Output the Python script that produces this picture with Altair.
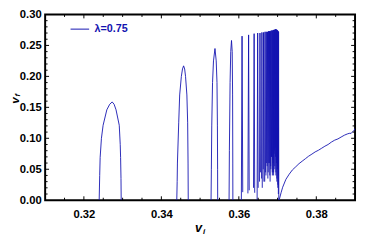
import altair as alt
import pandas as pd

BLUE = "#1212b0"
FONT = "Liberation Sans"

# ---- data ----
arch1_x = [0.32395, 0.32408, 0.32420, 0.32453, 0.32496, 0.32592, 0.32667, 0.32730,
           0.32780, 0.32830, 0.32913, 0.32938, 0.32948, 0.32958, 0.32963]
arch1_y = [0.0, 0.040, 0.069, 0.100, 0.121, 0.146, 0.155, 0.1587,
           0.155, 0.146, 0.121, 0.090, 0.069, 0.035, 0.0]

arch2_x = [0.34398, 0.34408, 0.34415, 0.34448, 0.34473, 0.34516, 0.34546, 0.34574,
           0.34601, 0.34624, 0.34659, 0.34679, 0.34689, 0.34694]
arch2_y = [0.0, 0.030, 0.060, 0.125, 0.170, 0.200, 0.212, 0.217,
           0.212, 0.200, 0.170, 0.125, 0.060, 0.0]

arch3_x = [0.35283, 0.35291, 0.35301, 0.35321, 0.35346, 0.35384, 0.35416, 0.35436,
           0.35447, 0.35452, 0.35454]
arch3_y = [0.0, 0.050, 0.120, 0.190, 0.225, 0.245, 0.225, 0.190, 0.120, 0.050, 0.0]

arch4_x = [0.35748, 0.35756, 0.35774, 0.35791, 0.35811, 0.35829, 0.35839, 0.35844, 0.35846]
arch4_y = [0.0, 0.080, 0.190, 0.240, 0.258, 0.240, 0.170, 0.060, 0.0]

# narrow spikes of the accumulation region
spike_left = [0.36065, 0.36234, 0.36379, 0.36472, 0.36534, 0.36587, 0.36630, 0.36668,
              0.36700, 0.36731, 0.36758, 0.36784, 0.36807, 0.36827, 0.36847, 0.36866,
              0.36884, 0.36899, 0.36914, 0.36929, 0.36944, 0.36957, 0.36969, 0.36982,
              0.36994, 0.37007, 0.37020]
spike_peak = [0.36083, 0.36252, 0.36395, 0.36486, 0.36546, 0.36596, 0.36639, 0.36677,
              0.36709, 0.36740, 0.36767, 0.36792, 0.36815, 0.36835, 0.36855, 0.36873,
              0.36891, 0.36906, 0.36921, 0.36936, 0.36951, 0.36964, 0.36976, 0.36989,
              0.37001, 0.37014, 0.37026]
spike_right = [0.36101, 0.36268, 0.36410, 0.36499, 0.36558, 0.36605, 0.36648, 0.36686,
               0.36718, 0.36749, 0.36776, 0.36800, 0.36823, 0.36843, 0.36863, 0.36880,
               0.36898, 0.36913, 0.36928, 0.36943, 0.36958, 0.36971, 0.36983, 0.36996,
               0.37008, 0.37021, 0.37032]
spike_top = [0.265, 0.267, 0.269, 0.270, 0.270, 0.271, 0.271, 0.272, 0.272, 0.272,
             0.273, 0.273, 0.273, 0.274, 0.274, 0.274, 0.275, 0.275, 0.275, 0.276,
             0.276, 0.276, 0.275, 0.275, 0.274, 0.273, 0.272]
spike_bottom_left = [0.0, 0.011, 0.020, 0.0, 0.030, 0.035, 0.050, 0.030, 0.040, 0.055,
                     0.045, 0.060, 0.030, 0.050, 0.070, 0.040, 0.060, 0.045, 0.080, 0.050,
                     0.070, 0.040, 0.060, 0.030, 0.050, 0.020, 0.010]
spike_bottom_right = [0.013, 0.016, 0.012, 0.020, 0.045, 0.020, 0.030, 0.045, 0.060, 0.035,
                      0.060, 0.040, 0.055, 0.070, 0.045, 0.065, 0.040, 0.075, 0.055, 0.085,
                      0.045, 0.065, 0.035, 0.055, 0.025, 0.040, 0.0]

tail_x = [0.37040, 0.37090, 0.37132, 0.37215, 0.37300, 0.37384, 0.37470, 0.37552,
          0.37635, 0.37718, 0.37800, 0.37887, 0.37970, 0.38055, 0.38140, 0.38221,
          0.38305, 0.38390, 0.38475, 0.38558, 0.38640, 0.38725, 0.38800, 0.38850,
          0.38900, 0.38976, 0.39000]
tail_y = [0.0, 0.012, 0.021, 0.0337, 0.042, 0.049, 0.054, 0.059,
          0.063, 0.067, 0.071, 0.0745, 0.078, 0.0807, 0.084, 0.0872,
          0.090, 0.0939, 0.097, 0.099, 0.102, 0.105, 0.107, 0.108,
          0.108, 0.113, 0.116]

x_label_values = [0.32, 0.34, 0.36, 0.38]
x_minor_ticks = [0.315, 0.325, 0.33, 0.335, 0.345, 0.35, 0.355, 0.365, 0.37, 0.375, 0.385]
y_label_values = [0.00, 0.05, 0.10, 0.15, 0.20, 0.25, 0.30]
y_major_ticks = [0.05, 0.10, 0.15, 0.20, 0.25]
y_minor_ticks = [0.01, 0.02, 0.03, 0.04, 0.06, 0.07, 0.08, 0.09, 0.11, 0.12, 0.13, 0.14,
                 0.16, 0.17, 0.18, 0.19, 0.21, 0.22, 0.23, 0.24, 0.26, 0.27, 0.28, 0.29]
legend_label = "λ=0.75"

# ---- build table ----
rows = []
def add(seg, xs, ys):
    for i, (a, b) in enumerate(zip(xs, ys)):
        rows.append({"x": a, "y": b, "seg": seg, "ord": i})

add("a1", arch1_x, arch1_y)
add("a2", arch2_x, arch2_y)
add("a3", arch3_x, arch3_y)
add("a4", arch4_x, arch4_y)
for k in range(len(spike_peak)):
    add(f"s{k}", [spike_left[k], spike_peak[k], spike_right[k]],
        [spike_bottom_left[k], spike_top[k], spike_bottom_right[k]])
add("tail", tail_x, tail_y)
df = pd.DataFrame(rows)

W, H = 317, 190
xscale = alt.Scale(domain=[0.31, 0.39], nice=False, zero=False)
yscale = alt.Scale(domain=[0.0, 0.30], nice=False, zero=False)
xaxis = alt.Axis(values=x_label_values, format=".2f", title=None, grid=False,
                 domain=False, ticks=False, labelFont=FONT, labelFontWeight="bold",
                 labelFontSize=11.5, labelColor="black", labelPadding=9)
yaxis = alt.Axis(values=y_label_values, format=".2f", title=None, grid=False,
                 domain=False, ticks=False, labelFont=FONT, labelFontWeight="bold",
                 labelFontSize=11.5, labelColor="black", labelPadding=4)

line = alt.Chart(df).mark_line(color=BLUE, strokeWidth=0.9, clip=True).encode(
    x=alt.X("x:Q", scale=xscale, axis=xaxis),
    y=alt.Y("y:Q", scale=yscale, axis=yaxis),
    detail="seg:N",
    order="ord:Q",
)

def xticks(vals, length):
    d = pd.DataFrame({"x": vals})
    bottom = alt.Chart(d).mark_rule(color="black", strokeWidth=1).encode(
        x=alt.X("x:Q", scale=xscale, axis=xaxis), y=alt.value(H), y2=alt.value(H - length))
    top = alt.Chart(d).mark_rule(color="black", strokeWidth=1).encode(
        x=alt.X("x:Q", scale=xscale, axis=xaxis), y=alt.value(0), y2=alt.value(length))
    return [bottom, top]

def yticks(vals, length):
    d = pd.DataFrame({"y": vals})
    left = alt.Chart(d).mark_rule(color="black", strokeWidth=1).encode(
        y=alt.Y("y:Q", scale=yscale, axis=yaxis), x=alt.value(0), x2=alt.value(length))
    right = alt.Chart(d).mark_rule(color="black", strokeWidth=1).encode(
        y=alt.Y("y:Q", scale=yscale, axis=yaxis), x=alt.value(W), x2=alt.value(W - length))
    return [left, right]

tick_layers = (xticks(x_label_values, 4) + xticks(x_minor_ticks, 2.5)
               + yticks(y_major_ticks, 4) + yticks(y_minor_ticks, 2.5))

one = pd.DataFrame({"a": [0]})
leg_line = alt.Chart(one).mark_rule(color=BLUE, strokeWidth=1).encode(
    x=alt.value(26), x2=alt.value(45), y=alt.value(15))
leg_text = alt.Chart(one).mark_text(
    text=legend_label, color=BLUE, font=FONT, fontWeight="bold", fontSize=11,
    align="left", baseline="middle").encode(x=alt.value(50.5), y=alt.value(15))

xt_v = alt.Chart(one).mark_text(text="v", font=FONT, fontWeight="bold", fontStyle="italic",
                                fontSize=13, color="black", align="center",
                                baseline="middle").encode(x=alt.value(157), y=alt.value(219))
xt_i = alt.Chart(one).mark_text(text="i", font=FONT, fontWeight="bold", fontStyle="italic",
                                fontSize=8, color="black", align="center",
                                baseline="middle").encode(x=alt.value(162.5), y=alt.value(223))
yt_v = alt.Chart(one).mark_text(text="v", font=FONT, fontWeight="bold", fontStyle="italic",
                                fontSize=12, color="black", align="center", angle=270,
                                baseline="middle").encode(x=alt.value(-31), y=alt.value(88))
yt_f = alt.Chart(one).mark_text(text="f", font=FONT, fontWeight="bold", fontStyle="italic",
                                fontSize=8, color="black", align="center", angle=270,
                                baseline="middle").encode(x=alt.value(-27.5), y=alt.value(82.5))

chart = alt.layer(line, *tick_layers, leg_line, leg_text, xt_v, xt_i, yt_v, yt_f).properties(
    width=W, height=H,
    autosize=alt.AutoSizeParams(type="none"),
    padding={"left": 38, "top": 4, "right": 2, "bottom": 34},
).configure_view(stroke="black", strokeWidth=2)

chart.save("out.html", embed_options={"renderer": "svg", "actions": False})
